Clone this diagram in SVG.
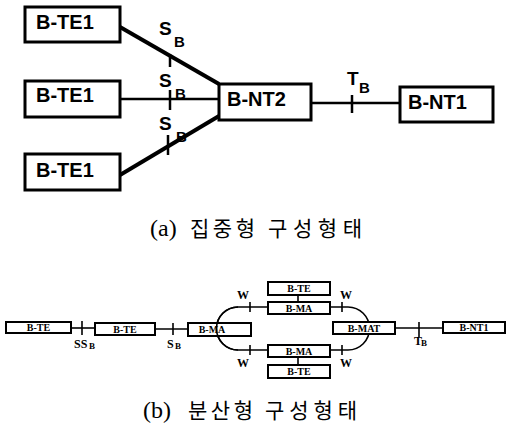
<svg xmlns="http://www.w3.org/2000/svg" width="507" height="430" viewBox="0 0 507 430">
<style>
.bigbox{fill:#fff;stroke:#000;stroke-width:3}
.big{font-family:"Liberation Sans",Arial,sans-serif;font-weight:bold;font-size:20px;fill:#000}
.lbl{font-family:"Liberation Sans",Arial,sans-serif;font-weight:bold;font-size:19px;fill:#000}
.sub{font-family:"Liberation Sans",Arial,sans-serif;font-weight:bold;font-size:15px;fill:#000}
.smbox{fill:#fff;stroke:#000;stroke-width:2}
.sm{font-family:"Liberation Serif","Times New Roman",serif;font-weight:bold;font-size:10px;fill:#000}
.smlbl{font-family:"Liberation Serif","Times New Roman",serif;font-weight:bold;font-size:12px;fill:#000}
.smsub{font-family:"Liberation Serif","Times New Roman",serif;font-weight:bold;font-size:9px;fill:#000}
.cap{font-family:"Liberation Serif","Noto Sans CJK KR",serif;font-size:21px;fill:#000}
.par{font-size:24px}
.thick{stroke:#000;stroke-width:4;fill:none}
.mid{stroke:#000;stroke-width:2.5;fill:none}
.thin{stroke:#000;stroke-width:1.6;fill:none}
</style>

<g id="connectors">
  <line class="thick" x1="120" y1="27" x2="219" y2="84"/>
  <line class="mid" x1="120" y1="99" x2="219" y2="99"/>
  <line class="thick" x1="120" y1="175" x2="219" y2="116"/>
  <line class="mid" x1="170" y1="54" x2="170" y2="67"/>
  <line class="mid" x1="170" y1="90" x2="170" y2="110"/>
  <line class="mid" x1="168" y1="135" x2="168" y2="155"/>
  <line class="mid" x1="311" y1="103" x2="399" y2="103"/>
  <line class="mid" x1="352" y1="95" x2="352" y2="113"/>

  <line class="thin" x1="71" y1="328" x2="95" y2="328"/>
  <line class="thin" x1="82" y1="321" x2="82" y2="335"/>
  <line class="thin" x1="155" y1="329" x2="188" y2="329"/>
  <line class="thin" x1="173" y1="323" x2="173" y2="335"/>
  <path class="thin" d="M268 307 H238 A21.5 21.5 0 0 0 238 350 H268"/>
  <path class="thin" d="M330 307 H348 A21.5 21.5 0 0 1 348 350 H330"/>
  <line class="thin" x1="250" y1="302" x2="250" y2="312"/>
  <line class="thin" x1="342" y1="302" x2="342" y2="312"/>
  <line class="thin" x1="250" y1="345" x2="250" y2="355"/>
  <line class="thin" x1="342" y1="345" x2="342" y2="355"/>
  <line class="thin" x1="298" y1="295" x2="298" y2="302"/>
  <line class="thin" x1="298" y1="357" x2="298" y2="365"/>
  <line class="thin" x1="395" y1="328" x2="443" y2="328"/>
  <line class="thin" x1="419" y1="322" x2="419" y2="337"/>
</g>

<g id="labels">
  <text class="lbl" x="159" y="35">S</text>
  <text class="sub" x="174" y="47">B</text>
  <text class="lbl" x="159" y="87">S</text>
  <text class="sub" x="175" y="99">B</text>
  <text class="lbl" x="159" y="130">S</text>
  <text class="sub" x="176" y="142">B</text>
  <text class="lbl" x="347" y="85">T</text>
  <text class="sub" x="359" y="93">B</text>

  <text class="smlbl" x="74" y="348">SS</text>
  <text class="smsub" x="89" y="349">B</text>
  <text class="smlbl" x="167" y="348">S</text>
  <text class="smsub" x="175" y="349">B</text>
  <text class="smlbl" x="243" y="299" text-anchor="middle">W</text>
  <text class="smlbl" x="346" y="299" text-anchor="middle">W</text>
  <text class="smlbl" x="243" y="367" text-anchor="middle">W</text>
  <text class="smlbl" x="346" y="367" text-anchor="middle">W</text>
  <text class="smlbl" x="414" y="345">T</text>
  <text class="smsub" x="421" y="346">B</text>
</g>

<g id="te1a"><rect class="bigbox" x="25" y="7" width="95" height="35"/><text class="big" x="36" y="29">B-TE1</text></g>
<g id="te1b"><rect class="bigbox" x="25" y="81" width="95" height="36"/><text class="big" x="36" y="102">B-TE1</text></g>
<g id="te1c"><rect class="bigbox" x="25" y="154" width="95" height="36"/><text class="big" x="36" y="177">B-TE1</text></g>
<g id="nt2"><rect class="bigbox" x="219" y="84" width="92" height="36"/><text class="big" x="227" y="106">B-NT2</text></g>
<g id="nt1"><rect class="bigbox" x="400" y="87" width="93" height="35"/><text class="big" x="408" y="109">B-NT1</text></g>

<g id="b-te-1"><rect class="smbox" x="6" y="322" width="65" height="11"/><text class="sm" x="38.5" y="331" text-anchor="middle">B-TE</text></g>
<g id="b-te-2"><rect class="smbox" x="95" y="323" width="60" height="12"/><text class="sm" x="125" y="332.5" text-anchor="middle">B-TE</text></g>
<g id="b-ma-left"><rect class="smbox" x="188" y="323" width="63" height="13"/><text class="sm" x="212" y="333" text-anchor="middle">B-MA</text></g>
<path class="thin" d="M238 307 A21.5 21.5 0 0 0 238 350"/>
<g id="b-te-top"><rect class="smbox" x="268" y="282" width="62" height="13"/><text class="sm" x="299" y="292" text-anchor="middle">B-TE</text></g>
<g id="b-ma-top"><rect class="smbox" x="268" y="302" width="62" height="12"/><text class="sm" x="299" y="311.5" text-anchor="middle">B-MA</text></g>
<g id="b-ma-bot"><rect class="smbox" x="268" y="345" width="62" height="12"/><text class="sm" x="299" y="354.5" text-anchor="middle">B-MA</text></g>
<g id="b-te-bot"><rect class="smbox" x="268" y="365" width="62" height="13"/><text class="sm" x="299" y="375" text-anchor="middle">B-TE</text></g>
<g id="b-mat"><rect class="smbox" x="333" y="322" width="62" height="12"/><text class="sm" x="364" y="331.5" text-anchor="middle">B-MAT</text></g>
<g id="b-nt1-small"><rect class="smbox" x="443" y="322" width="62" height="11"/><text class="sm" x="474" y="331" text-anchor="middle">B-NT1</text></g>

<text class="cap" y="236"><tspan class="par" x="150">(a)</tspan><tspan x="190" textLength="65" lengthAdjust="spacing">집중형</tspan><tspan x="268" textLength="94" lengthAdjust="spacing">구성형태</tspan></text>
<text class="cap" y="418"><tspan class="par" x="143">(b)</tspan><tspan x="188" textLength="65" lengthAdjust="spacing">분산형</tspan><tspan x="265" textLength="92" lengthAdjust="spacing">구성형태</tspan></text>
</svg>
